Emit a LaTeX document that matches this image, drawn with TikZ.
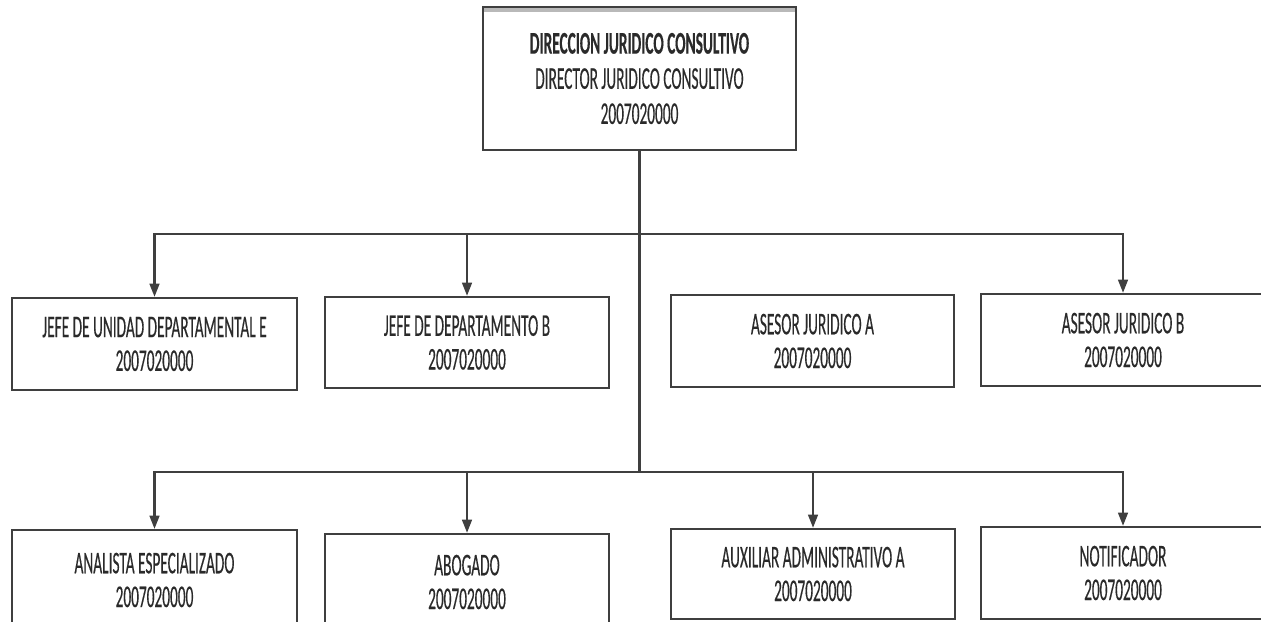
\documentclass[tikz,border=0pt]{standalone}
\usepackage{fontspec}
\setmainfont{Carlito}[FakeStretch=0.485, FakeBold=0.3]
\usetikzlibrary{arrows.meta}
\definecolor{linecol}{HTML}{3F3F3F}
\definecolor{txtcol}{HTML}{2A2A2A}
\begin{document}
\begin{tikzpicture}[x=0.02cm,y=-0.02cm,
  unit/.style={draw=linecol, line width=1.3pt, fill=white, align=center, inner sep=0pt,
    text=txtcol, font=\fontsize{18}{19.2}\selectfont, minimum width=5.7cm, minimum height=1.84cm},
  chief/.style={unit, line width=1.6pt, font=\fontsize{18}{20}\selectfont,
    path picture={\fill[gray!55] (path picture bounding box.north west) rectangle ([yshift=-0.1cm]path picture bounding box.north east);}},
  conn/.style={draw=linecol, line width=1.3pt},
  arr/.style={conn, -{Triangle[width=5.5pt,length=7.5pt]}}]
\useasboundingbox (0,0) rectangle (1261,622);
\clip (0,0) rectangle (1261,622);

\node[chief, minimum width=6.26cm, minimum height=2.86cm] (dir) at (639.5,78.5)
  {\textbf{DIRECCION JURIDICO CONSULTIVO}\\DIRECTOR JURIDICO CONSULTIVO\\2007020000};

\node[unit] (jue) at (154.5,344) {JEFE DE UNIDAD DEPARTAMENTAL E\\2007020000};
\node[unit, minimum width=5.68cm, minimum height=1.82cm] (jdb) at (467,342.5) {JEFE DE DEPARTAMENTO B\\2007020000};
\node[unit, minimum width=5.66cm] (aja) at (812.5,341) {ASESOR JURIDICO A\\2007020000};
\node[unit, minimum width=5.68cm] (ajb) at (1123,340) {ASESOR JURIDICO B\\2007020000};

\node[unit, minimum height=2.0cm] (ana) at (154.5,580) {ANALISTA ESPECIALIZADO\\2007020000};
\node[unit, minimum width=5.68cm, minimum height=1.92cm] (abo) at (467,582) {ABOGADO\\2007020000};
\node[unit, minimum width=5.68cm, minimum height=1.8cm] (aux) at (813,574) {AUXILIAR ADMINISTRATIVO A\\2007020000};
\node[unit, minimum width=5.68cm] (not) at (1123,573) {NOTIFICADOR\\2007020000};

\coordinate (h1) at (0,234);
\coordinate (h2) at (0,472);
\coordinate (j1) at (dir.south |- h1);
\coordinate (j2) at (dir.south |- h2);

\draw[conn] (dir.south) -- (j2);
\draw[arr] (j1) -| (jue.north);
\draw[arr] (j1) -| (jdb.north);
\draw[arr] (j1) -| (ajb.north);
\draw[arr] (j2) -| (ana.north);
\draw[arr] (j2) -| (abo.north);
\draw[arr] (j2) -| (aux.north);
\draw[arr] (j2) -| (not.north);
\end{tikzpicture}
\end{document}
